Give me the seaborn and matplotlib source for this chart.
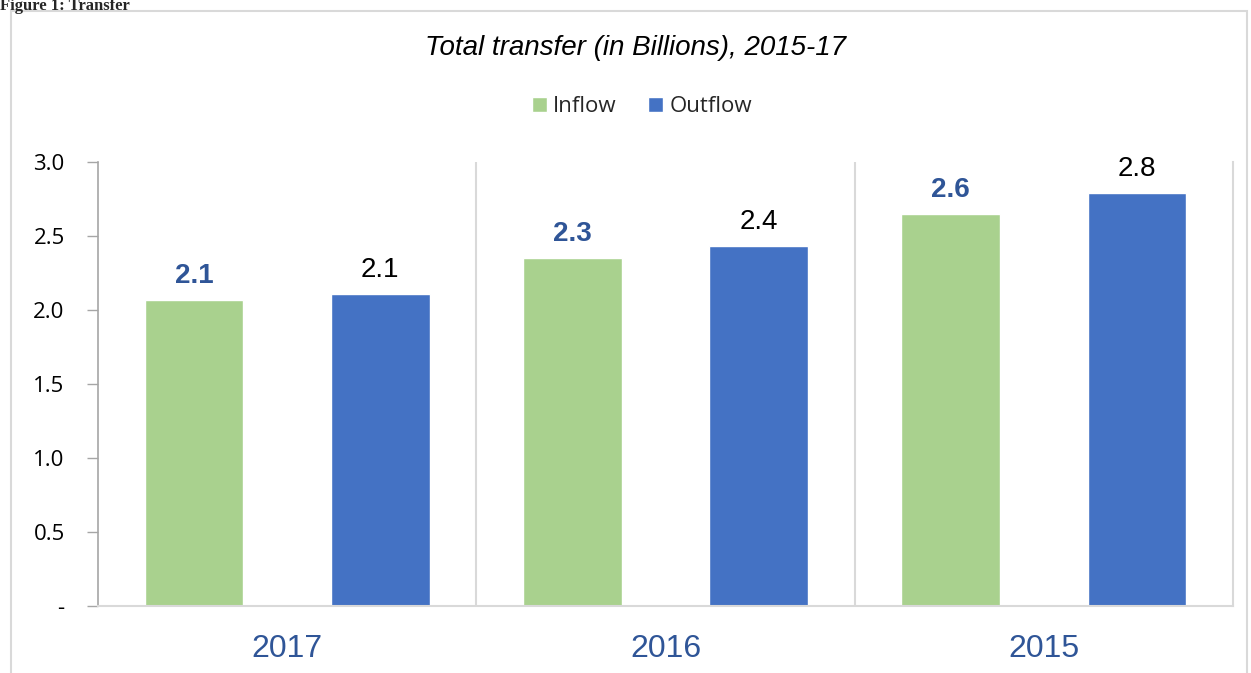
import matplotlib
matplotlib.use("Agg")
import matplotlib.pyplot as plt
from matplotlib.patches import Rectangle, Patch
import seaborn as sns
import pandas as pd

years = ["2017", "2016", "2015"]
inflow = [2.07, 2.35, 2.65]
outflow = [2.11, 2.43, 2.79]
series = ["Inflow", "Outflow"]
yticks = [0, 0.5, 1.0, 1.5, 2.0, 2.5, 3.0]
ytick_labels = ["-", "0.5", "1.0", "1.5", "2.0", "2.5", "3.0"]
data_labels_in = ["2.1", "2.3", "2.6"]
data_labels_out = ["2.1", "2.4", "2.8"]
title = "Total transfer (in Billions), 2015-17"

df = pd.DataFrame({
    "Year": years * 2,
    "Series": [series[0]] * 3 + [series[1]] * 3,
    "Value": inflow + outflow,
})

sns.set_theme(style="white")
plt.rcParams["font.family"] = ["Open Sans", "DejaVu Sans"]

W, H = 1251, 673
fig = plt.figure(figsize=(W / 100, H / 100), dpi=100)
ax = fig.add_axes([98 / W, 1 - 606 / H, (1233 - 98) / W, (606 - 162) / H])

green = "#A9D18E"
blue = "#4472C4"
sns.barplot(data=df, x="Year", y="Value", hue="Series", order=years,
            hue_order=series, palette=[green, blue], width=0.984, gap=0.47,
            ax=ax, legend=False, saturation=1)

ax.set_xlim(-0.5, 2.5)
ax.set_ylim(0, 3.0)
ax.set_yticks(yticks)
ax.set_yticklabels(ytick_labels, fontsize=16, color="black")
ax.tick_params(axis="y", direction="out", length=8, width=1, color="#A6A6A6", pad=16, left=True)
ax.tick_params(axis="x", length=0, pad=20)
ax.set_xticks(range(len(years)))
ax.set_xticklabels(years, fontsize=23, color="#2F5597", family=["Liberation Sans"])
ax.set_xlabel("")
ax.set_ylabel("")

ax.spines["top"].set_visible(False)
ax.spines["left"].set_color("#A6A6A6")
ax.spines["bottom"].set_color("#D9D9D9")
ax.spines["right"].set_color("#D9D9D9")
ax.spines["left"].set_linewidth(1.2)
ax.spines["bottom"].set_linewidth(1.5)
ax.spines["right"].set_linewidth(1.5)
for xv in [0.5, 1.5]:
    ax.axvline(xv, color="#D9D9D9", lw=1.5, zorder=0)

c_in, c_out = ax.containers[0], ax.containers[1]
ax.bar_label(c_in, labels=data_labels_in, padding=8,
             fontsize=20, fontweight="bold", color="#2F5597", family=["Liberation Sans"])
ax.bar_label(c_out, labels=data_labels_out, padding=8,
             fontsize=20, color="black", family=["Liberation Sans"])

# Outer chart frame
fig.patches.append(Rectangle((11 / W, -0.1), (1247 - 11) / W, 1.1 - 11 / H,
                             transform=fig.transFigure, fill=False,
                             edgecolor="#D9D9D9", lw=1.5, zorder=-1))

fig.text(0.0, 1 - 10 / H, "Figure 1: Transfer", fontsize=12, fontweight="bold",
         family=["Liberation Serif"], va="baseline", ha="left")

fig.text(636 / W, 1 - 48 / H, title, fontsize=20, style="italic",
         ha="center", va="center", family=["Liberation Sans"], color="black")

handles = [Patch(facecolor=green, label=series[0]), Patch(facecolor=blue, label=series[1])]
fig.legend(handles=handles, loc="center", bbox_to_anchor=(642 / W, 1 - 107 / H), ncol=2,
           frameon=False, fontsize=16, handlelength=0.68, handleheight=0.68,
           handletextpad=0.3, columnspacing=1.4)

fig.savefig("out.png", dpi=100)
